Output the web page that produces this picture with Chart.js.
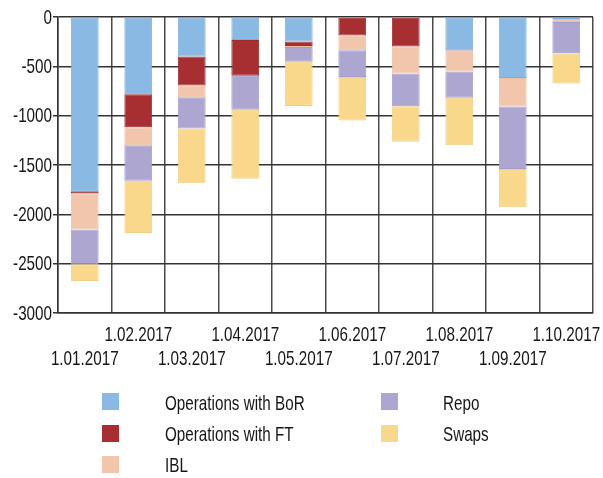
<!DOCTYPE html>
<html>
<head>
<meta charset="utf-8">
<script src="https://cdn.jsdelivr.net/npm/chart.js@4/dist/chart.umd.min.js"></script>
<style>
  html, body { margin: 0; padding: 0; background: #fff; }
  #wrap { position: relative; width: 603px; height: 478px; }
  canvas { position: absolute; left: 0; top: 0; }
  .lg { position: absolute; font-family: "Liberation Sans", Arial, sans-serif; font-size: 21px; line-height: 24px; color: #161616; white-space: nowrap; transform: scaleX(0.725); transform-origin: 0 0; }
  .bx { position: absolute; width: 17px; height: 17px; }
</style>
</head>
<body>
<div id="wrap"><canvas id="c" width="603" height="478"></canvas></div>
<script>
const categories = ["1.01.2017","1.02.2017","1.03.2017","1.04.2017","1.05.2017","1.06.2017","1.07.2017","1.08.2017","1.09.2017","1.10.2017"];
const seriesNames = ["Operations with BoR","Operations with FT","IBL","Repo","Swaps"];
const bor   = [-1766, -784, -400, -232, -249,    0,    0, -336, -619, -20];
const ft    = [  -24, -333, -293, -364,  -44, -188, -299,   -5,    0,   0];
const ibl   = [ -363, -182, -121,    0,  -10, -148, -273, -212, -289, -30];
const repo  = [ -354, -360, -317, -343, -151, -273, -333, -266, -633, -317];
const swaps = [ -168, -531, -555, -700, -448, -441, -360, -481, -387, -306];
const yTicks = [0, -500, -1000, -1500, -2000, -2500, -3000];

const colors = ["#8ab9e3", "#a82f31", "#f2c6ad", "#ada6d1", "#f9d88b"];
const borders = ["#7fb0de", "#9e2a2c", "#ecbfa6", "#a39cd0", "#f3d088"];
const values = [bor, ft, ibl, repo, swaps];

const FONT = '21px "Liberation Sans", Arial, sans-serif';
const SX = 0.725;

const datasets = seriesNames.map((n, i) => ({
  label: n,
  data: values[i],
  backgroundColor: colors[i],
  borderColor: borders[i],
  borderWidth: 1,
  borderSkipped: false,
  categoryPercentage: 1.0,
  barPercentage: 0.52
}));

// draws condensed axis labels from the scales' own ticks
const condensedLabels = {
  id: 'condensedLabels',
  afterDraw(chart) {
    const ctx = chart.ctx;
    const ys = chart.scales.y, xs = chart.scales.x;
    ctx.save();
    ctx.font = FONT;
    ctx.fillStyle = '#161616';
    ctx.textBaseline = 'middle';
    ys.ticks.forEach(t => {
      const y = ys.getPixelForValue(t.value);
      ctx.save();
      ctx.translate(ys.right - 6, y + 1);
      ctx.scale(SX, 1);
      ctx.textAlign = 'right';
      ctx.fillText(String(t.value), 0, 0);
      ctx.restore();
    });
    xs.ticks.forEach((t, i) => {
      const x = xs.getPixelForTick(i);
      const y = xs.top + (i % 2 === 0 ? 46 : 22);
      ctx.save();
      ctx.translate(x, y);
      ctx.scale(SX, 1);
      ctx.textAlign = 'center';
      ctx.fillText(categories[i], 0, 0);
      ctx.restore();
    });
    ctx.restore();
  }
};

new Chart(document.getElementById('c'), {
  type: 'bar',
  data: { labels: categories, datasets },
  plugins: [condensedLabels],
  options: {
    responsive: false,
    animation: false,
    layout: { padding: { top: 17, right: 10, left: 0, bottom: 0 } },
    plugins: { legend: { display: false }, tooltip: { enabled: false } },
    scales: {
      x: {
        stacked: true,
        offset: true,
        grid: { display: true, offset: true, color: "#4a4a4a", lineWidth: 1.5, drawTicks: false },
        border: { display: true, color: "#333", width: 1.5 },
        ticks: { display: false, autoSkip: false },
        afterFit: s => { s.height = 165; }
      },
      y: {
        stacked: true,
        min: -3000, max: 0,
        afterBuildTicks: s => { s.ticks = yTicks.map(v => ({ value: v })); },
        grid: { color: "#333", lineWidth: 1.5, tickLength: 5 },
        border: { display: true, color: "#333", width: 1.5 },
        ticks: { display: false },
        afterFit: s => { s.width = 58; }
      }
    }
  }
});

// legend (column-major, two columns)
const wrap = document.getElementById('wrap');
const pos = [[0,0],[0,1],[0,2],[1,0],[1,1]];
seriesNames.forEach((n, i) => {
  const [col, row] = pos[i];
  const bx = document.createElement('div');
  bx.className = 'bx';
  bx.style.left = (col ? 381 : 101.5) + 'px';
  bx.style.top = (393 + row * 31.5) + 'px';
  bx.style.background = colors[i];
  wrap.appendChild(bx);
  const t = document.createElement('div');
  t.className = 'lg';
  t.style.left = (col ? 443 : 165) + 'px';
  t.style.top = (391 + row * 31) + 'px';
  t.textContent = n;
  wrap.appendChild(t);
});
</script>
</body>
</html>
